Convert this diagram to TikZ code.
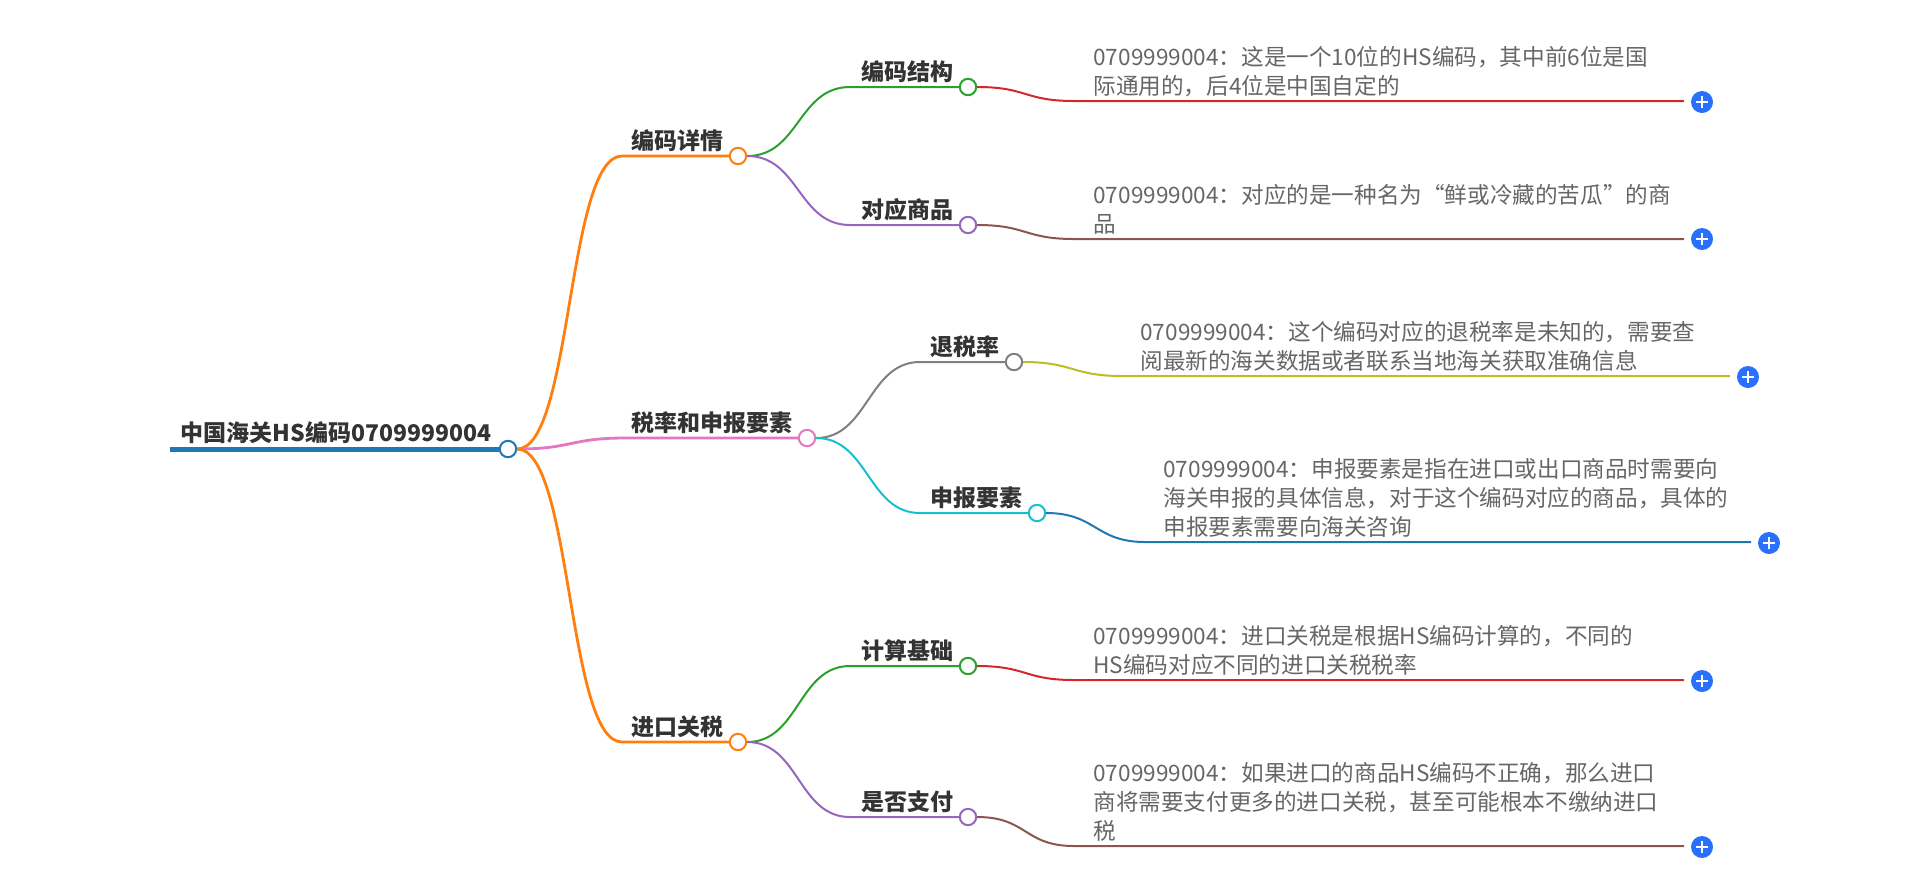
\documentclass[tikz,border=0pt]{standalone}
\usepackage{fontspec}
\setmainfont{Noto Sans CJK SC}
\usetikzlibrary{positioning}
\definecolor{tblue}{HTML}{1F77B4}
\definecolor{torange}{HTML}{FF7F0E}
\definecolor{tgreen}{HTML}{2CA02C}
\definecolor{tred}{HTML}{D62728}
\definecolor{tpurple}{HTML}{9467BD}
\definecolor{tbrown}{HTML}{8C564B}
\definecolor{tpink}{HTML}{E377C2}
\definecolor{tgray}{HTML}{7F7F7F}
\definecolor{tolive}{HTML}{BCBD22}
\definecolor{tcyan}{HTML}{17BECF}
\definecolor{plusblue}{HTML}{2970FF}
\definecolor{lblgray}{HTML}{333333}
\definecolor{leafgray}{HTML}{666666}

\begin{document}
\begin{tikzpicture}[x=0.5pt, y=-0.5pt,
    dot/.style = {circle, draw=#1, fill=white, line width=1pt, minimum size=8.2pt, inner sep=0pt},
    lbl/.style = {inner sep=0pt, text=lblgray, font=\bfseries\fontsize{11.5}{13}\selectfont},
    leaf/.style = {inner sep=0pt, anchor=south west, align=left, text=leafgray, font=\fontsize{11.3}{14.5}\selectfont},
    plusbtn/.style = {circle, fill=plusblue, minimum size=11pt, inner sep=0pt,
        path picture={
            \draw[white, line width=1.1pt] ([xshift=-2.8pt]path picture bounding box.center) -- ([xshift=2.8pt]path picture bounding box.center);
            \draw[white, line width=1.1pt] ([yshift=-2.8pt]path picture bounding box.center) -- ([yshift=2.8pt]path picture bounding box.center);}},
    lvl1/.style = {line width=1.4pt},
    lvl2/.style = {line width=1pt}]
    \useasboundingbox (0,0) rectangle (1920,891);

    % root
    \coordinate (rs) at (170,449);
    \node[dot=tblue] (root) at (508,449) {};
    \node[lbl, above left=2.5pt and 3.5pt of root.west] (troot) {中国海关HS编码0709999004};
    \draw[tblue, line width=2.5pt] (rs) -- (root);

    % first level
    \node[dot=torange] (a1) at (738,156) {};
    \node[dot=tpink]   (a2) at (807,438) {};
    \node[dot=torange] (a3) at (738,742) {};
    \node[lbl, above left=2pt and 2.5pt of a1.west] (ta1) {编码详情};
    \node[lbl, above left=2pt and 2.5pt of a2.west] (ta2) {税率和申报要素};
    \node[lbl, above left=2pt and 2.5pt of a3.west] (ta3) {进口关税};
    \coordinate (h1) at (622,156);
    \coordinate (h2) at (625,438);
    \coordinate (h3) at (622,742);
    \draw[torange, lvl1] (root.east) .. controls +(55,0) and +(-55,0) .. (h1) -- (a1);
    \draw[tpink, lvl1]   (root.east) .. controls +(55,0) and +(-55,0) .. (h2) -- (a2);
    \draw[torange, lvl1] (root.east) .. controls +(55,0) and +(-55,0) .. (h3) -- (a3);

    % second level
    \node[dot=tgreen]  (b1) at (968,87) {};
    \node[dot=tpurple] (b2) at (968,225) {};
    \node[dot=tgray]   (b3) at (1014,362) {};
    \node[dot=tcyan]   (b4) at (1037,513) {};
    \node[dot=tgreen]  (b5) at (968,666) {};
    \node[dot=tpurple] (b6) at (968,817) {};
    \node[lbl, above left=2pt and 2.5pt of b1.west] (tb1) {编码结构};
    \node[lbl, above left=2pt and 2.5pt of b2.west] (tb2) {对应商品};
    \node[lbl, above left=2pt and 2.5pt of b3.west] (tb3) {退税率};
    \node[lbl, above left=2pt and 2.5pt of b4.west] (tb4) {申报要素};
    \node[lbl, above left=2pt and 2.5pt of b5.west] (tb5) {计算基础};
    \node[lbl, above left=2pt and 2.5pt of b6.west] (tb6) {是否支付};
    \coordinate (g1) at (850,87);
    \coordinate (g2) at (850,225);
    \coordinate (g3) at (920,362);
    \coordinate (g4) at (920,513);
    \coordinate (g5) at (850,666);
    \coordinate (g6) at (850,817);
    \draw[tgreen, lvl2]  (a1.east) .. controls +(52,0) and +(-52,0) .. (g1) -- (b1);
    \draw[tpurple, lvl2] (a1.east) .. controls +(52,0) and +(-52,0) .. (g2) -- (b2);
    \draw[tgray, lvl2]   (a2.east) .. controls +(52,0) and +(-52,0) .. (g3) -- (b3);
    \draw[tcyan, lvl2]   (a2.east) .. controls +(52,0) and +(-52,0) .. (g4) -- (b4);
    \draw[tgreen, lvl2]  (a3.east) .. controls +(52,0) and +(-52,0) .. (g5) -- (b5);
    \draw[tpurple, lvl2] (a3.east) .. controls +(52,0) and +(-52,0) .. (g6) -- (b6);

    % leaves
    \node[plusbtn] (p1) at (1702,102) {};
    \node[plusbtn] (p2) at (1702,239) {};
    \node[plusbtn] (p3) at (1748,377) {};
    \node[plusbtn] (p4) at (1769,543) {};
    \node[plusbtn] (p5) at (1702,681) {};
    \node[plusbtn] (p6) at (1702,847) {};
    \coordinate (k1) at (1074,101);
    \coordinate (k2) at (1074,239);
    \coordinate (k3) at (1122,376);
    \coordinate (k4) at (1145,542);
    \coordinate (k5) at (1074,680);
    \coordinate (k6) at (1074,846);
    \coordinate (e1) at (1684,101);
    \coordinate (e2) at (1684,239);
    \coordinate (e3) at (1730,376);
    \coordinate (e4) at (1751,542);
    \coordinate (e5) at (1684,680);
    \coordinate (e6) at (1684,846);
    \draw[tred, lvl2]   (b1.east) .. controls +(50,0) and +(-50,0) .. (k1) -- (e1);
    \draw[tbrown, lvl2] (b2.east) .. controls +(50,0) and +(-50,0) .. (k2) -- (e2);
    \draw[tolive, lvl2] (b3.east) .. controls +(50,0) and +(-50,0) .. (k3) -- (e3);
    \draw[tblue, lvl2]  (b4.east) .. controls +(50,0) and +(-50,0) .. (k4) -- (e4);
    \draw[tred, lvl2]   (b5.east) .. controls +(50,0) and +(-50,0) .. (k5) -- (e5);
    \draw[tbrown, lvl2] (b6.east) .. controls +(50,0) and +(-50,0) .. (k6) -- (e6);
    \node[leaf] (c1) at (1093,97) {0709999004：这是一个10位的HS编码，其中前6位是国\\际通用的，后4位是中国自定的};
    \node[leaf] (c2) at (1093,235) {0709999004：对应的是一种名为“鲜或冷藏的苦瓜”的商\\品};
    \node[leaf] (c3) at (1140,372) {0709999004：这个编码对应的退税率是未知的，需要查\\阅最新的海关数据或者联系当地海关获取准确信息};
    \node[leaf] (c4) at (1163,538) {0709999004：申报要素是指在进口或出口商品时需要向\\海关申报的具体信息，对于这个编码对应的商品，具体的\\申报要素需要向海关咨询};
    \node[leaf] (c5) at (1093,676) {0709999004：进口关税是根据HS编码计算的，不同的\\HS编码对应不同的进口关税税率};
    \node[leaf] (c6) at (1093,842) {0709999004：如果进口的商品HS编码不正确，那么进口\\商将需要支付更多的进口关税，甚至可能根本不缴纳进口\\税};
\end{tikzpicture}
\end{document}
